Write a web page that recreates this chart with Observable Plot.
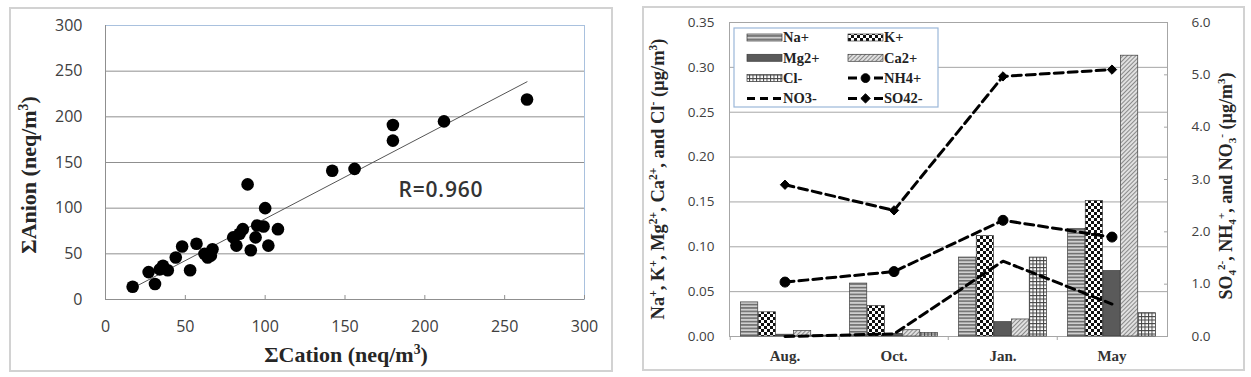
<!DOCTYPE html>
<html><head><meta charset="utf-8">
<script src="https://cdn.jsdelivr.net/npm/d3@7"></script>
<script src="https://cdn.jsdelivr.net/npm/@observablehq/plot@0.6"></script>
<style>
body{margin:0;background:#fff;}
#wrap{position:relative;width:1251px;height:377px;overflow:hidden;background:#fff;}
.panel{position:absolute;border:2px solid #d2d2d2;background:#fff;}
.panel svg{display:block;}
</style></head><body>
<div id="wrap">
 <div class="panel" id="left" style="left:9px;top:7px;width:600px;height:361px"></div>
 <div class="panel" id="right" style="left:642px;top:6px;width:599px;height:361px"></div>
</div>
<script>
// ---------- Data: scatter ----------
const cation = [17, 27, 31, 34, 36, 39, 44, 48, 53, 57, 62, 64, 66, 67, 80, 82, 84, 86, 89, 91, 94, 95, 99, 100, 102, 108, 142, 156, 180, 180, 212, 264];
const anion  = [14, 30, 17, 33, 37, 32, 46, 58, 32, 61, 50, 46, 48, 55, 68, 59, 72, 77, 126, 54, 68, 81, 80, 100, 59, 77, 141, 143, 191, 174, 195, 219];
const scatterTicks = [0, 50, 100, 150, 200, 250, 300];
const rLabel = "R=0.960";

// ---------- Data: ions ----------
const months = ["Aug.", "Oct.", "Jan.", "May"];
const barIons = ["Na+", "K+", "Mg2+", "Ca2+", "Cl-"];
const naValues = [0.038, 0.059, 0.088, 0.120];
const kValues  = [0.027, 0.034, 0.112, 0.151];
const mgValues = [0.002, 0.003, 0.016, 0.073];
const caValues = [0.006, 0.007, 0.019, 0.313];
const clValues = [0.001, 0.004, 0.088, 0.026];
const lineIons = ["NH4+", "NO3-", "SO42-"];
const nh4Values = [1.04, 1.24, 2.22, 1.90];
const no3Values = [0.00, 0.05, 1.44, 0.62];
const so4Values = [2.90, 2.41, 4.97, 5.10];
const leftTicks = [0, 0.05, 0.10, 0.15, 0.20, 0.25, 0.30, 0.35];
const rightTicks = [0, 1, 2, 3, 4, 5, 6];

const SERIF = "'Liberation Serif','Times New Roman',serif";
const SANS = "'Open Sans',sans-serif";

function addTitle(svg, {x, y, rotate = 0, size, parts, fill = "#262626"}) {
  const t = d3.select(svg).append("text")
    .attr("transform", `translate(${x},${y}) rotate(${rotate})`)
    .attr("text-anchor", "middle")
    .attr("font-family", SERIF).attr("font-weight", "bold")
    .attr("font-size", size).attr("fill", fill);
  let cur = 0;
  for (const [s, kind] of parts) {
    const small = size * 0.62;
    const target = kind === "sup" ? -size * 0.38 : kind === "sub" ? size * 0.2 : 0;
    const ts = t.append("tspan").text(s).attr("dy", target - cur);
    if (kind) ts.attr("font-size", small);
    cur = target;
  }
}

// ---------- Left chart ----------
const points = cation.map((c, i) => ({cation: c, anion: anion[i]}));
const leftSvg = Plot.plot({
  width: 600, height: 361,
  marginLeft: 94, marginRight: 27, marginTop: 16, marginBottom: 71,
  style: {fontFamily: SANS, fontSize: "16px", color: "#404040", background: "transparent", overflow: "visible"},
  x: {domain: [0, 300], label: null},
  y: {domain: [0, 300], label: null},
  marks: [
    Plot.gridY(scatterTicks.slice(1, -1), {stroke: "#8f8f8f", strokeOpacity: 1}),
    Plot.frame({stroke: "#a9c1de"}),
    Plot.ruleY([0], {stroke: "#8f8f8f"}),
    Plot.ruleX([0], {stroke: "#8f8f8f"}),
    Plot.axisY({ticks: scatterTicks, tickSize: 0, tickPadding: 23, fill: "#404040"}),
    Plot.axisX({ticks: scatterTicks, tickSize: -4, tickPadding: 25, stroke: "#8f8f8f", fill: "#404040"}),
    Plot.linearRegressionY(points, {x: "cation", y: "anion", ci: 0, stroke: "#555", strokeWidth: 1}),
    Plot.dot(points, {x: "cation", y: "anion", r: 6.3, fill: "black"}),
    Plot.text([rLabel], {text: d => d, frameAnchor: "top-left", dx: 293, dy: 157, textAnchor: "start",
      fontSize: 21, fontWeight: 600, fill: "#333", fontFamily: SANS, className: "rlabel"})
  ]
});
document.getElementById("left").appendChild(leftSvg);
d3.select(leftSvg).selectAll(".rlabel text").attr("letter-spacing", "0.8px");
addTitle(leftSvg, {x: 335, y: 353, size: 22, parts: [["ΣCation (neq/m"], ["3", "sup"], [")"]]});
addTitle(leftSvg, {x: 25, y: 166, rotate: -90, size: 22, parts: [["ΣAnion (neq/m"], ["3", "sup"], [")"]]});

// ---------- Right chart ----------
const W = 599, H = 361, ML = 85, MR = 76, MT = 14, MB = 33;
const ratio = 0.35 / 6;
const bw = (W - ML - MR) / months.length;
const barW = bw / (barIons.length + 1.2), pad = barW * 0.6;
const barSeries = [naValues, kValues, mgValues, caValues, clValues];
const lineSeries = [nh4Values, no3Values, so4Values];
const fills = ["url(#pNa)", "url(#pK)", "#5a5a5a", "url(#pCa)", "url(#pCl)"];
const lineSymbols = ["circle", null, "diamond2"];
const DASH = "9,5";

const rightSvg = Plot.plot({
  width: W, height: H, marginLeft: ML, marginRight: MR, marginTop: MT, marginBottom: MB,
  style: {fontFamily: SANS, fontSize: "13.5px", color: "#404040", background: "transparent", overflow: "visible"},
  x: {domain: months, padding: 0, label: null},
  y: {domain: [0, 0.35], label: null},
  marks: [
    Plot.gridY(leftTicks, {stroke: "#a6a6a6", strokeOpacity: 1}),
    Plot.frame({stroke: "#a6a6a6"}),
    ...barIons.map((ion, i) => Plot.barY(
      months.map((m, j) => ({month: m, value: barSeries[i][j]})),
      {x: "month", y: "value", fill: fills[i], stroke: "#3a3a3a", strokeWidth: 0.7,
       insetLeft: pad + i * barW, insetRight: bw - pad - (i + 1) * barW})),
    ...lineIons.map((ion, i) => Plot.line(
      months.map((m, j) => ({month: m, value: lineSeries[i][j]})),
      {x: "month", y: d => d.value * ratio, stroke: "black", strokeWidth: 3, strokeDasharray: DASH})),
    ...lineIons.map((ion, i) => lineSymbols[i] ? Plot.dot(
      months.map((m, j) => ({month: m, value: lineSeries[i][j]})),
      {x: "month", y: d => d.value * ratio, symbol: lineSymbols[i], r: lineSymbols[i] === "circle" ? 5 : 4.2,
       fill: "black", stroke: "black", strokeWidth: 1}) : null),
    Plot.axisY({anchor: "left", ticks: leftTicks, tickFormat: d3.format(".2f"), tickSize: 0, tickPadding: 15, fill: "#404040"}),
    Plot.axisY({anchor: "right", ticks: rightTicks.map(v => v * ratio), tickFormat: d => (d / ratio).toFixed(1),
      tickSize: -4, tickPadding: 28, stroke: "#a6a6a6", fill: "#404040"}),
    Plot.axisX({ticks: months, tickSize: 0, tickPadding: 14, fontFamily: SERIF, fontWeight: "bold", fontSize: 15, fill: "#333"}),
    Plot.axisX({ticks: months, tickSize: 4, dx: -bw / 2, tickFormat: () => "", stroke: "#a6a6a6"})
  ]
});
document.getElementById("right").appendChild(rightSvg);

// patterns
const defs = d3.select(rightSvg).insert("defs", ":first-child");
const pNa = defs.append("pattern").attr("id", "pNa").attr("patternUnits", "userSpaceOnUse").attr("width", 4).attr("height", 3.4);
pNa.append("rect").attr("width", 4).attr("height", 3.4).attr("fill", "#cfcfcf");
pNa.append("rect").attr("width", 4).attr("height", 1.5).attr("fill", "#6a6a6a");
const pK = defs.append("pattern").attr("id", "pK").attr("patternUnits", "userSpaceOnUse").attr("width", 6).attr("height", 6);
pK.append("rect").attr("width", 6).attr("height", 6).attr("fill", "#fff");
pK.append("rect").attr("width", 3).attr("height", 3).attr("fill", "#111");
pK.append("rect").attr("x", 3).attr("y", 3).attr("width", 3).attr("height", 3).attr("fill", "#111");
const pCa = defs.append("pattern").attr("id", "pCa").attr("patternUnits", "userSpaceOnUse").attr("width", 3).attr("height", 3).attr("patternTransform", "rotate(45)");
pCa.append("rect").attr("width", 3).attr("height", 3).attr("fill", "#e0e0e0");
pCa.append("rect").attr("width", 1).attr("height", 3).attr("fill", "#8a8a8a");
const pCl = defs.append("pattern").attr("id", "pCl").attr("patternUnits", "userSpaceOnUse").attr("width", 3.5).attr("height", 3.5);
pCl.append("rect").attr("width", 3.5).attr("height", 3.5).attr("fill", "#fff");
pCl.append("path").attr("d", "M0,0.5H3.5M0.5,0V3.5").attr("stroke", "#444").attr("stroke-width", 1);

// legend
const legendNames = [...barIons, ...lineIons];
const lg = d3.select(rightSvg).append("g").attr("text-anchor", "start");
lg.append("rect").attr("x", 90).attr("y", 20).attr("width", 204).attr("height", 79)
  .attr("fill", "#fff").attr("stroke", "#9bb7d9").attr("stroke-width", 1.2);
legendNames.forEach((name, i) => {
  const col = i % 2, row = Math.floor(i / 2);
  const sx = col ? 204 : 103, cy = 29.5 + row * 20.3;
  if (i < barIons.length) {
    lg.append("rect").attr("x", sx).attr("y", cy - 3.5).attr("width", 35).attr("height", 7)
      .attr("fill", fills[i]).attr("stroke", "#3a3a3a").attr("stroke-width", 0.7);
  } else {
    const li = i - barIons.length;
    if (lineSymbols[li]) {
      lg.append("path").attr("d", `M${sx},${cy}H${sx + 9}M${sx + 26},${cy}H${sx + 35}`)
        .attr("stroke", "black").attr("stroke-width", 3);
      const sym = lineSymbols[li] === "circle" ? d3.symbolCircle : d3.symbolDiamond2;
      lg.append("path").attr("d", d3.symbol(sym, lineSymbols[li] === "circle" ? 60 : 55)())
        .attr("transform", `translate(${sx + 17.5},${cy})`).attr("fill", "black").attr("stroke", "black");
    } else {
      lg.append("path").attr("d", `M${sx},${cy}H${sx + 35}`).attr("stroke", "black")
        .attr("stroke-width", 3).attr("stroke-dasharray", "8,5");
    }
  }
  lg.append("text").attr("x", sx + 36).attr("y", cy + 4.8).text(name).attr("text-anchor", "start")
    .attr("font-family", SERIF).attr("font-weight", "bold").attr("font-size", 14.5).attr("fill", "#222");
});

addTitle(rightSvg, {x: 20, y: 171, rotate: -90, size: 18.5,
  parts: [["Na"], ["+", "sup"], [", K"], ["+", "sup"], [", Mg"], ["2+", "sup"], [", Ca"], ["2+", "sup"], [", and Cl"], ["-", "sup"], [" (µg/m"], ["3", "sup"], [")"]]});
addTitle(rightSvg, {x: 588, y: 178, rotate: -90, size: 18,
  parts: [["SO"], ["4", "sub"], ["2-", "sup"], [", NH"], ["4", "sub"], ["+", "sup"], [", and NO"], ["3", "sub"], ["-", "sup"], [" (µg/m"], ["3", "sup"], [")"]]});
</script></body></html>
